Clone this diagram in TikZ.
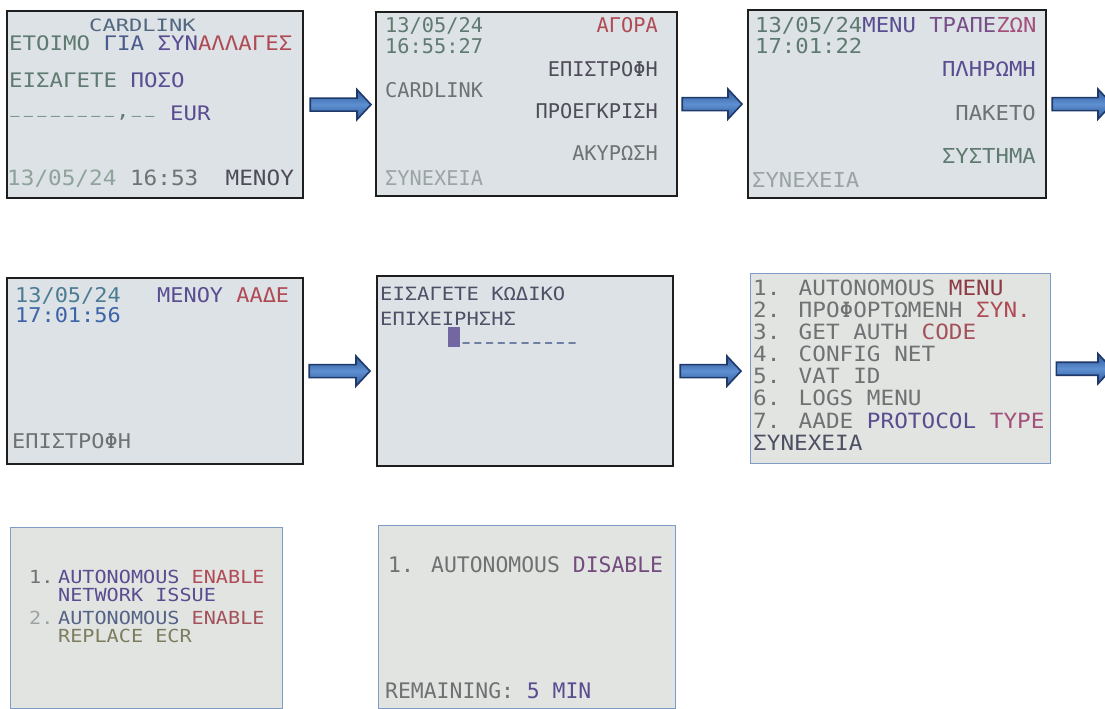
\documentclass[tikz,border=0pt]{standalone}
\usepackage{fontspec}
\usepackage{graphicx}
\usetikzlibrary{calc}
\newfontfamily\lcdM{DejaVu Sans Mono}
\newfontfamily\lcdW[FakeStretch=1.08]{DejaVu Sans Mono}
\newfontfamily\lcdX[FakeStretch=1.12]{DejaVu Sans Mono}
\newfontfamily\lcdXX[FakeStretch=1.3]{DejaVu Sans Mono}
\newlength\lcdcell
\newlength\ulift
\newcommand\ucell{\makebox[\lcdcell][c]{\raisebox{\ulift}{\scalebox{0.68}[1]{\_}}}}
\newcommand\hcell{\makebox[\lcdcell][c]{\scalebox{1.35}[1]{-}}}
\newcommand\ccell[1]{\makebox[\lcdcell][c]{#1}}
\definecolor{lcdbg}{HTML}{DCE2E5}
\definecolor{lcdbgb}{HTML}{E2E4E2}
\definecolor{frame}{HTML}{1E1E1E}
\definecolor{frameb}{HTML}{7E9CC6}
\definecolor{arrowedge}{HTML}{1F3A6A}
\definecolor{arrowdark}{HTML}{2E5A9C}
\definecolor{arrowlight}{HTML}{5E8FD0}
\definecolor{cgreen}{HTML}{5F7A70}
\definecolor{cgrey}{HTML}{6E7272}
\definecolor{clgrey}{HTML}{9CA3A4}
\definecolor{cblue}{HTML}{4A5C8E}
\definecolor{cpurple}{HTML}{5A4C90}
\definecolor{cred}{HTML}{B04A55}
\definecolor{cpink}{HTML}{A4507C}
\definecolor{cdark}{HTML}{4E4C58}
\definecolor{cteal}{HTML}{4C7C94}
\definecolor{colive}{HTML}{7C7C5E}
\begin{document}
\begin{tikzpicture}[x=1pt,y=-1pt,
  screen/.style={rectangle, draw=frame, line width=2.2pt, fill=lcdbg, anchor=north west, inner sep=0pt},
  screenb/.style={screen, draw=frameb, line width=1.4pt, fill=lcdbgb},
  txt/.style={inner sep=0pt, anchor=base west},
  rtxt/.style={inner sep=0pt, anchor=base east},
  f1/.style={font={\lcdX\fontsize{20pt}{20pt}\selectfont}},
  f1a/.style={font={\lcdXX\fontsize{17pt}{17pt}\selectfont}},
  f1b/.style={font={\lcdW\fontsize{21pt}{21pt}\selectfont}},
  f2/.style={font={\lcdM\fontsize{20.3pt}{20pt}\selectfont}},
  f3/.style={font={\lcdW\fontsize{20.6pt}{20pt}\selectfont}},
  f4/.style={font={\lcdW\fontsize{20.3pt}{20pt}\selectfont}},
  f5/.style={font={\lcdX\fontsize{18.3pt}{18pt}\selectfont}},
  f6/.style={font={\lcdW\fontsize{21pt}{21pt}\selectfont}},
  f7/.style={font={\lcdX\fontsize{18pt}{18pt}\selectfont}},
  f8/.style={font={\lcdM\fontsize{21.4pt}{21pt}\selectfont}},
  flowarrow/.style={draw=arrowedge, line width=1.6pt, line join=miter,
    top color=arrowdark, bottom color=arrowdark, middle color=arrowlight,
    to path={let \p1=(\tikztostart), \p2=(\tikztotarget) in
      (\x1,\y1-6.5pt) -- (\x2-14pt,\y1-6.5pt) -- (\x2-14pt,\y1-15pt) -- (\x2,\y1)
      -- (\x2-14pt,\y1+15pt) -- (\x2-14pt,\y1+6.5pt) -- (\x1,\y1+6.5pt) -- cycle}}
]
\useasboundingbox (0,0) rectangle (1105,709);
\fill[white] (0,0) rectangle (1105,709);
\clip (0,0) rectangle (1105,709);

% screens
\node[screen, minimum width=296pt, minimum height=187pt] (b1) at (6,10) {};
\node[screen, minimum width=301pt, minimum height=184pt] (b2) at (375,11) {};
\node[screen, minimum width=298pt, minimum height=188pt] (b3) at (747,9) {};
\node[screen, minimum width=296pt, minimum height=186pt] (b4) at (6,277) {};
\node[screen, minimum width=296pt, minimum height=190pt] (b5) at (376,275) {};
\node[screenb, minimum width=300pt, minimum height=190pt] (b6) at (750,273) {};
\node[screenb, minimum width=272pt, minimum height=181pt] (b7) at (10,527) {};
\node[screenb, minimum width=297pt, minimum height=183pt] (b8) at (378,525) {};

% screen 1
\node[txt,f1a,text=cblue!60!cgreen] (t11) at (89,31.5) {CARDLINK};
\node[txt,f1] (t12) at (9,51) {\textcolor{cgreen}{ΕΤΟΙΜΟ} \textcolor{cblue}{ΓΙΑ} \textcolor{cpurple}{ΣΥΝ}\textcolor{cred}{ΑΛΛΑΓΕΣ}};
\node[txt,f1] (t13) at (9,87) {\textcolor{cgreen}{ΕΙΣΑΓΕΤΕ} \textcolor{cpurple}{ΠΟΣΟ}};
\node[txt,f1] (t14) at (8,120) {\setlength\lcdcell{13.5pt}\setlength\ulift{8pt}\textcolor{cgreen}{\ucell\ucell\ucell\ucell\ucell\ucell\ucell\ucell\ccell{\raisebox{3pt}{,}}\ucell\ucell}\ \textcolor{cpurple}{EUR}};
\node[txt,f1b] (t16) at (7,185) {\textcolor{cgreen!70!white}{13/05/24} \textcolor{cgrey}{16:53}\ \ \textcolor{cdark}{ΜΕΝΟΥ}};

% screen 2
\node[txt,f2,text=cgreen] (t21) at (385,33) {13/05/24};
\node[txt,f2,text=cgreen] (t22) at (385,53) {16:55:27};
\node[rtxt,f2,text=cred] (t23) at (658,33) {ΑΓΟΡΑ};
\node[rtxt,f2,text=cdark] (t24) at (658,77) {ΕΠΙΣΤΡΟΦΗ};
\node[txt,f2,text=cgrey] (t25) at (385,97) {CARDLINK};
\node[rtxt,f2,text=cdark] (t26) at (658,118) {ΠΡΟΕΓΚΡΙΣΗ};
\node[rtxt,f2,text=cgrey] (t27) at (658,160) {ΑΚΥΡΩΣΗ};
\node[txt,f2,text=clgrey] (t28) at (385,185) {ΣΥΝΕΧΕΙΑ};

% screen 3
\node[txt,f3] (t31) at (755,33) {\textcolor{cgreen}{13/05/24}\textcolor{cpurple}{MENU} \textcolor{cpurple!60!cpink}{ΤΡΑΠΕ}\textcolor{cpink}{ΖΩΝ}};
\node[txt,f3,text=cgreen] (t32) at (755,53) {17:01:22};
\node[rtxt,f3,text=cpurple] (t33) at (1036,77) {ΠΛΗΡΩΜΗ};
\node[rtxt,f3,text=cgrey] (t34) at (1036,120) {ΠΑΚΕΤΟ};
\node[rtxt,f3,text=cgreen] (t35) at (1036,163) {ΣΥΣΤΗΜΑ};
\node[txt,f3,text=clgrey] (t36) at (752,187) {ΣΥΝΕΧΕΙΑ};

% screen 4
\node[txt,f4,text=cteal] (t41) at (15,302) {13/05/24};
\node[txt,f4,text=cteal!80!blue] (t42) at (15,322) {17:01:56};
\node[txt,f4] (t43) at (157,302) {\textcolor{cpurple}{ΜΕΝΟΥ} \textcolor{cred}{ΑΑΔΕ}};
\node[txt,f4,text=cgrey] (t44) at (12,448) {ΕΠΙΣΤΡΟΦΗ};

% screen 5
\node[txt,f5,text=cdark!70!cblue] (t51) at (380,300) {ΕΙΣΑΓΕΤΕ ΚΩΔΙΚΟ};
\node[txt,f5,text=cdark!70!cblue] (t52) at (380,325) {ΕΠΙΧΕΙΡΗΣΗΣ};
\node[fill=cpurple!85, minimum width=12pt, minimum height=20pt, inner sep=0pt, anchor=north west] (cur) at (448,327) {};
\node[txt,f5,text=cblue] (t53) at (460,348.5) {\setlength\lcdcell{11.8pt}\hcell\hcell\hcell\hcell\hcell\hcell\hcell\hcell\hcell\hcell};

% screen 6
\node[txt,f6] (t61) at (753,295) {\textcolor{cgrey}{1. AUTONOMOUS} \textcolor{cred!80!black}{MENU}};
\node[txt,f6] (t62) at (753,317) {\textcolor{cgrey}{2. ΠΡΟΦΟΡΤΩΜΕΝΗ} \textcolor{cred}{ΣΥΝ.}};
\node[txt,f6] (t63) at (753,339) {\textcolor{cgrey}{3. GET AUTH} \textcolor{cred!80!cgrey}{CODE}};
\node[txt,f6,text=cgrey] (t64) at (753,361) {4. CONFIG NET};
\node[txt,f6,text=cgrey] (t65) at (753,383) {5. VAT ID};
\node[txt,f6,text=cgrey] (t66) at (753,405) {6. LOGS MENU};
\node[txt,f6] (t67) at (753,428) {\textcolor{cgrey}{7. AADE} \textcolor{cpurple}{PROTOCOL} \textcolor{cpink}{TYPE}};
\node[txt,f6,text=cdark!80!cblue] (t68) at (753,450) {ΣΥΝΕΧΕΙΑ};

% screen 7
\node[txt,f7,text=cgrey] (t71a) at (29,583) {1.};
\node[txt,f7] (t71) at (58,583) {\textcolor{cpurple}{AUTONOMOUS} \textcolor{cred}{ENABLE}};
\node[txt,f7,text=cpurple] (t72) at (58,601) {NETWORK ISSUE};
\node[txt,f7,text=clgrey] (t73a) at (29,624) {2.};
\node[txt,f7] (t73) at (58,624) {\textcolor{cblue!70!cgrey}{AUTONOMOUS} \textcolor{cred!80!cgrey}{ENABLE}};
\node[txt,f7,text=colive] (t74) at (58,642) {REPLACE ECR};

% screen 8
\node[txt,f8] (t81) at (388,572) {\textcolor{cgrey}{1. AUTONOMOUS} \textcolor{cpurple!70!cred}{DISABLE}};
\node[txt,f8] (t82) at (385,698) {\textcolor{cgrey}{REMAINING:} \textcolor{cpurple}{5 MIN}};

% arrows
\coordinate (e3) at (1112,103);
\coordinate (e6) at (1112,369);
\draw[flowarrow] ([xshift=6pt]b1.east) to ([xshift=-4pt]b2.west);
\draw[flowarrow] ([xshift=4pt]b2.east) to ([xshift=-5pt]b3.west);
\draw[flowarrow] ([xshift=5pt]b3.east) to (e3);
\draw[flowarrow] ([xshift=5pt]b4.east) to ([xshift=-6pt]b5.west);
\draw[flowarrow] ([xshift=6pt]b5.east) to ([xshift=-9pt]b6.west);
\draw[flowarrow] ([xshift=5pt]b6.east) to (e6);
\end{tikzpicture}
\end{document}
